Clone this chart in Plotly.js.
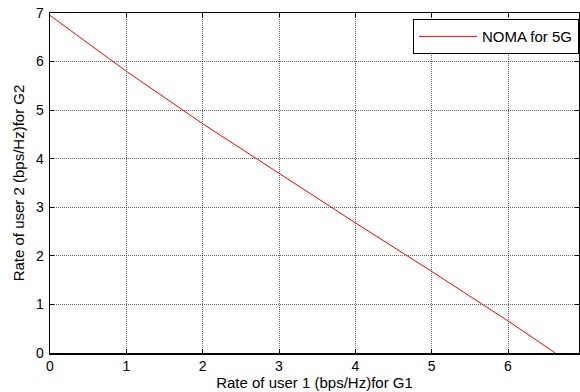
<!DOCTYPE html>
<html>
<head>
<meta charset="utf-8">
<script src="https://cdn.plot.ly/plotly-3.0.1.min.js"></script>
<style>html,body{margin:0;padding:0;background:#fff;}#chart{width:580px;height:392px;}</style>
</head>
<body>
<div id="chart"></div>
<script>
const rateUser1 = [0, 1, 2, 3, 4, 5, 5.66, 6, 6.62];
const rateUser2 = [6.95, 5.8, 4.72, 3.7, 2.68, 1.68, 1.0, 0.66, 0];
const seriesName = 'NOMA for 5G';
const tickVals = [0, 1, 2, 3, 4, 5, 6, 7];

const fam = 'Liberation Sans, Arial, sans-serif';

const axisCommon = {
  showline: true, linecolor: '#000', linewidth: 1.5, mirror: 'ticks',
  ticks: 'inside', ticklen: 4, tickcolor: '#000', tickwidth: 1,
  showgrid: true, gridcolor: 'rgba(0,0,0,0.6)', griddash: '1px,1px', gridwidth: 1,
  zeroline: false, tickfont: {family: fam, size: 14, color: '#000'},
  tickvals: tickVals
};

Plotly.newPlot('chart', [{
  x: rateUser1, y: rateUser2, type: 'scatter', mode: 'lines',
  name: seriesName, line: {color: '#ff0000', width: 1}
}], {
  width: 580, height: 392,
  margin: {l: 50, r: 1, t: 13, b: 39},
  paper_bgcolor: '#fff', plot_bgcolor: '#fff',
  font: {family: fam, size: 14, color: '#000'},
  showlegend: true,
  legend: {x: 1, xanchor: 'right', y: 0.982, yanchor: 'top', bordercolor: '#000', borderwidth: 1,
           bgcolor: '#fff', itemwidth: 58, tracegroupgap: 0,
           font: {family: fam, size: 15, color: '#000'}},
  xaxis: Object.assign({}, axisCommon, {range: [0, 6.93], ticklabelstandoff: 0,
    title: {text: 'Rate of user 1 (bps/Hz)for G1', font: {family: fam, size: 15, color: '#000'}, standoff: 0}}),
  yaxis: Object.assign({}, axisCommon, {range: [0, 7], ticklabelstandoff: 2,
    title: {text: 'Rate of user 2 (bps/Hz)for G2', font: {family: fam, size: 15, color: '#000'}, standoff: 7}})
}, {staticPlot: true, displayModeBar: false});
</script>
</body>
</html>
